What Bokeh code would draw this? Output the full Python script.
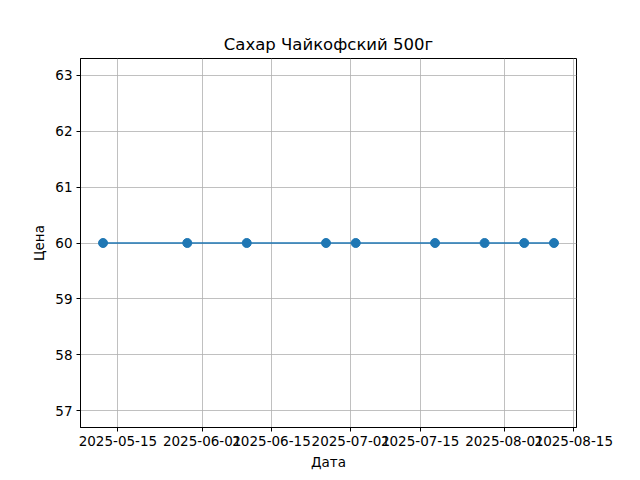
from datetime import datetime
from bokeh.plotting import figure
from bokeh.models import FixedTicker, DatetimeTickFormatter, Range1d, ColumnDataSource
from bokeh.embed import file_html
from bokeh.resources import INLINE

dates = ["2025-05-12", "2025-05-29", "2025-06-10", "2025-06-26", "2025-07-02",
         "2025-07-18", "2025-07-28", "2025-08-05", "2025-08-11"]
prices = [60, 60, 60, 60, 60, 60, 60, 60, 60]
x_ticks = ["2025-05-15", "2025-06-01", "2025-06-15", "2025-07-01", "2025-07-15",
           "2025-08-01", "2025-08-15"]
y_ticks = [57, 58, 59, 60, 61, 62, 63]

def ms(s):
    return datetime.strptime(s, "%Y-%m-%d").timestamp() * 1000.0

xs = [datetime.strptime(d, "%Y-%m-%d") for d in dates]
src = ColumnDataSource(dict(x=xs, y=prices))

xmin = ms(dates[0]); xmax = ms(dates[-1])
span = xmax - xmin
FONT = "DejaVu Sans"

p = figure(width=624, height=472, x_axis_type="datetime", output_backend="svg",
           toolbar_location=None, title="Сахар Чайкофский 500г",
           x_range=Range1d(xmin - 0.05 * span, xmax + 0.05 * span),
           y_range=Range1d(56.7, 63.3),
           min_border_left=80, min_border_right=48, min_border_top=58, min_border_bottom=45)

p.line("x", "y", source=src, line_color="#1f77b4", line_width=1.5)
p.scatter("x", "y", source=src, size=9, fill_color="#1f77b4", line_color="#1f77b4")

p.title.align = "center"
p.title.text_font = FONT
p.title.text_font_size = "16.5px"
p.title.text_font_style = "normal"
p.title.text_color = "black"

p.xaxis.ticker = FixedTicker(ticks=[ms(t) for t in x_ticks])
p.xaxis.formatter = DatetimeTickFormatter(days="%Y-%m-%d", months="%Y-%m-%d", years="%Y-%m-%d")
p.yaxis.ticker = FixedTicker(ticks=y_ticks)
p.xaxis.axis_label = "Дата"
p.yaxis.axis_label = "Цена"

for ax in (p.xaxis, p.yaxis):
    ax.axis_label_text_font = FONT
    ax.axis_label_text_font_size = "13.5px"
    ax.axis_label_text_font_style = "normal"
    ax.axis_label_text_color = "black"
    ax.major_label_text_font = FONT
    ax.major_label_text_font_size = "13.5px"
    ax.major_label_text_color = "black"
    ax.major_tick_out = 4
    ax.major_tick_in = 0
    ax.minor_tick_out = 0
    ax.minor_tick_in = 0
    ax.axis_line_color = "black"
    ax.major_tick_line_color = "black"
    ax.axis_label_standoff = 5
    ax.major_label_standoff = 4

p.outline_line_color = "black"
p.outline_line_width = 1
p.outline_line_alpha = 1
p.xgrid.grid_line_color = "#b0b0b0"
p.ygrid.grid_line_color = "#b0b0b0"
p.xgrid.grid_line_width = 0.8
p.ygrid.grid_line_width = 0.8

open("out.html", "w").write(file_html(p, INLINE))
